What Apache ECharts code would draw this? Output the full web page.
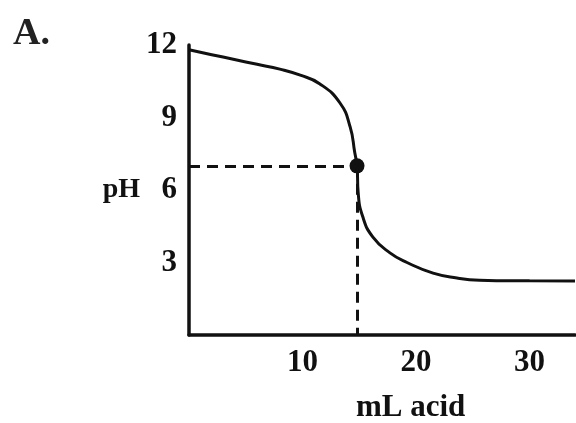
<!DOCTYPE html>
<html>
<head>
<meta charset="utf-8">
<script src="https://cdn.jsdelivr.net/npm/echarts@6/dist/echarts.min.js"></script>
<style>
body {
	margin: 0px;
	background: #fff;
}
#main {
	width: 576px;
	height: 423px;
}
</style>
</head>
<body>
<div id="main"></div>
<script>
// mL of acid added, and the pH
var volume = [0, 2, 4, 6, 8, 9.8, 11.5, 13.3, 14.2, 14.6, 14.8, 14.9, 15.3, 16.2, 17.7, 19.2, 21.5, 23.6, 25.6, 30, 34];
var ph = [11.8, 11.6, 11.4, 11.2, 11.0, 10.75, 10.4, 9.6, 8.6, 7.55, 7.0, 5.9, 4.9, 4.05, 3.4, 3.0, 2.56, 2.36, 2.27, 2.24, 2.23];
// equivalence point
var eqPoint = [14.8, 7];
var xTicks = [10, 20, 30];
var yTicks = [3, 6, 9, 12];

var font = 'Liberation Serif';
var curve = [];
for (var i = 0; i < volume.length; i++) {
	curve.push([volume[i], ph[i]]);
}

var myChart = echarts.init(document.getElementById('main'));

var option = {
	animation: false,
	title: {
		text: 'A.',
		left: 8,
		top: 10,
		textStyle: { fontFamily: font, fontSize: 38, fontWeight: 'bold', color: '#222' }
	},
	grid: {
		left: 189,
		right: 1,
		top: 45,
		bottom: 88
	},
	xAxis: {
		type: 'value',
		min: 0,
		max: 34,
		interval: 10,
		splitLine: { show: false },
		axisTick: { show: false },
		axisLine: { lineStyle: { color: '#111', width: 3.5 } },
		axisLabel: {
			showMinLabel: false,
			showMaxLabel: false,
			margin: 12,
			fontFamily: font,
			fontSize: 31,
			fontWeight: 'bold',
			color: '#111',
			formatter: function (v) { return xTicks.indexOf(v) >= 0 ? v : ''; }
		}
	},
	yAxis: {
		type: 'value',
		min: 0,
		max: 12,
		interval: 3,
		name: 'pH',
		nameLocation: 'middle',
		nameRotate: 0,
		nameGap: 48,
		nameTextStyle: { fontFamily: font, fontSize: 28, fontWeight: 'bold', color: '#111' },
		splitLine: { show: false },
		axisTick: { show: false },
		axisLine: { lineStyle: { color: '#111', width: 3.5 } },
		axisLabel: {
			showMinLabel: false,
			margin: 12,
			fontFamily: font,
			fontSize: 31,
			fontWeight: 'bold',
			color: '#111',
			formatter: function (v) { return yTicks.indexOf(v) >= 0 ? v : ''; }
		}
	},
	graphic: [
		{
			type: 'text',
			left: 356,
			top: 392,
			style: { text: 'mL acid', fontFamily: font, fontSize: 31, fontWeight: 'bold', fill: '#111' }
		}
	],
	series: [
		{
			type: 'line',
			data: curve,
			smooth: true,
			showSymbol: false,
			lineStyle: { color: '#111', width: 3 },
			markLine: {
				silent: true,
				symbol: 'none',
				label: { show: false },
				lineStyle: { color: '#111', width: 3, type: [11, 7] },
				data: [
					[{ coord: [0, eqPoint[1]] }, { coord: eqPoint }],
					[{ coord: eqPoint }, { coord: [eqPoint[0], 0] }]
				]
			}
		},
		{
			type: 'scatter',
			data: [eqPoint],
			symbolSize: 15,
			itemStyle: { color: '#111', opacity: 1 }
		}
	]
};

myChart.setOption(option);
</script>
</body>
</html>
